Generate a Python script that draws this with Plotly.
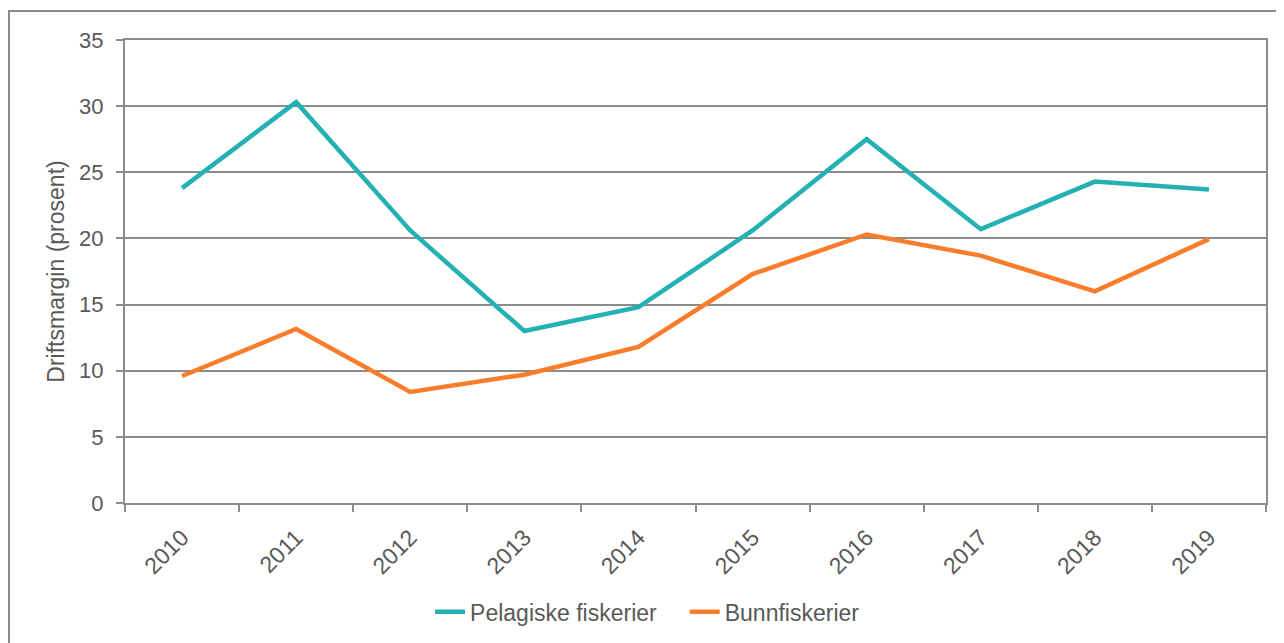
import plotly.graph_objects as go

years = ["2010", "2011", "2012", "2013", "2014", "2015", "2016", "2017", "2018", "2019"]
pelagiske = [23.8, 30.3, 20.6, 13.0, 14.8, 20.6, 27.5, 20.7, 24.3, 23.7]
bunn = [9.6, 13.15, 8.4, 9.7, 11.8, 17.3, 20.3, 18.7, 16.0, 19.95]
series_names = ["Pelagiske fiskerier", "Bunnfiskerier"]

font_family = "Liberation Sans, Arial, sans-serif"
txt = "#595959"
grid = "#8c8c8c"

fig = go.Figure()
fig.add_trace(go.Scatter(x=years, y=pelagiske, mode="lines", name=series_names[0] + "\u2003",
                         line=dict(color="#24B1B3", width=4.5)))
fig.add_trace(go.Scatter(x=years, y=bunn, mode="lines", name=series_names[1],
                         line=dict(color="#F97D2A", width=4.5)))

# body has an 8px default margin, so plot area offsets are shifted by 8px
L, T = 117, 32
fig.update_layout(
    width=1284, height=643,
    margin=dict(l=L, r=26, t=T, b=148, autoexpand=False),
    paper_bgcolor="white", plot_bgcolor="white",
    font=dict(family=font_family, color=txt, size=22),
    showlegend=True,
    legend=dict(orientation="h", x=0.458, xanchor="center", y=-0.235, yanchor="middle",
                font=dict(size=23, color=txt), tracegroupgap=0),
    xaxis=dict(type="category", tickson="boundaries", ticks="outside", ticklen=7,
               range=[-0.5, 9.5], automargin=False,
               tickcolor=grid, tickwidth=2, showline=True, linecolor=grid, linewidth=2,
               mirror=True, showgrid=False, tickangle=-45, ticklabelstandoff=10,
               tickfont=dict(size=23, color=txt)),
    yaxis=dict(range=[0, 35], dtick=5, ticks="outside", ticklen=7, tickcolor=grid, tickwidth=2,
               showline=True, linecolor=grid, linewidth=2, mirror=True, automargin=False,
               showgrid=True, gridcolor=grid, gridwidth=2, zeroline=False,
               ticklabelstandoff=8,
               tickfont=dict(size=22, color=txt),
               title=dict(text="Driftsmargin (prosent)", font=dict(size=23, color=txt), standoff=8)),
    shapes=[dict(type="rect", xref="paper", yref="paper",
                 x0=(9 - 125) / 1141, x1=(1300 - 125) / 1141,
                 y0=(503 - 670) / 463, y1=(503 - 11) / 463,
                 line=dict(color=grid, width=2), layer="below")],
)

fig.write_html("out.html")
